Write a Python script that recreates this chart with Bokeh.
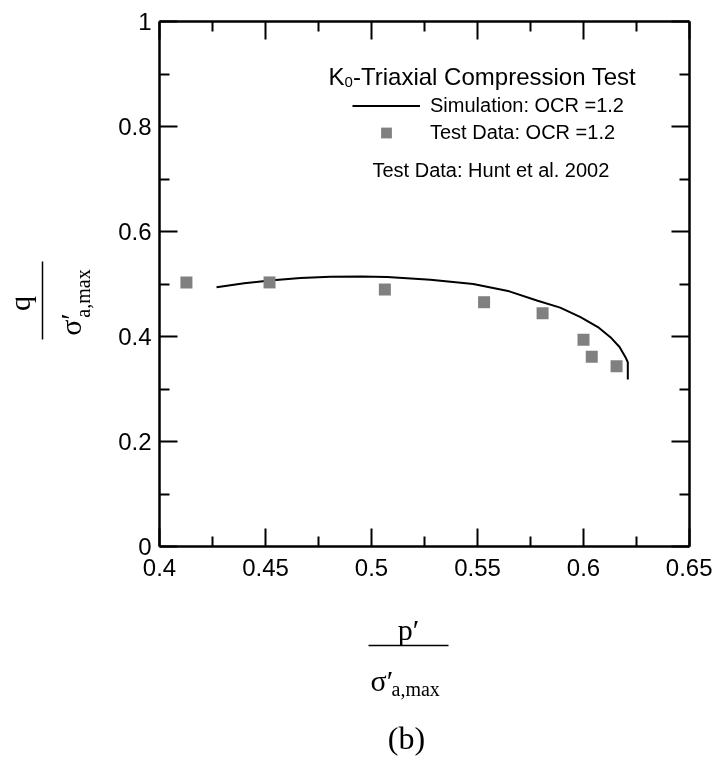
import math
from bokeh.plotting import figure
from bokeh.layouts import row, column
from bokeh.models import (Range1d, LinearAxis, FixedTicker, NumeralTickFormatter,
                          CustomJSTickFormatter, Label, Arrow, Legend, LegendItem)
from bokeh.embed import file_html
from bokeh.resources import INLINE

# ---------------- data ----------------
sim_p = [0.4269, 0.4400, 0.4520, 0.4665, 0.4807, 0.4950, 0.5074, 0.5278, 0.5480,
         0.5650, 0.5780, 0.5890, 0.5986, 0.6068, 0.6127, 0.6170, 0.6198, 0.6209, 0.6209]
sim_q = [0.494, 0.5015, 0.5067, 0.5115, 0.5140, 0.5145, 0.5135, 0.508, 0.500,
         0.486, 0.4686, 0.455, 0.4368, 0.418, 0.3987, 0.380, 0.3606, 0.351, 0.318]

test_p = [0.4127, 0.4519, 0.5063, 0.5531, 0.5807, 0.6000, 0.6039, 0.6156]
test_q = [0.503, 0.503, 0.4895, 0.4653, 0.4444, 0.3937, 0.3613, 0.3434]

x_ticks = [0.4, 0.45, 0.5, 0.55, 0.6, 0.65]
x_minor = [0.425, 0.475, 0.525, 0.575, 0.625]
y_ticks = [0.0, 0.2, 0.4, 0.6, 0.8, 1.0]
y_minor = [0.1, 0.3, 0.5, 0.7, 0.9]

sim_label = "Simulation: OCR =1.2"
test_label = "Test Data: OCR =1.2"
source_label = "Test Data: Hunt et al. 2002"

# ---------------- layout (page pixels) ----------------
W, H = 712, 757
LEFT_W = 100            # left strip holding the rotated y label
MAIN_H = 596            # height of main plot (frame + axes)
FL, FT, FW, FH = 159, 21, 530, 525   # frame position on page

SANS = "Liberation Sans"
SERIF = "Liberation Serif"

# ---------------- main plot ----------------
p = figure(frame_width=FW, frame_height=FH,
           x_range=Range1d(0.4, 0.65), y_range=Range1d(0.0, 1.0),
           output_backend="svg", toolbar_location=None,
           x_axis_location=None, y_axis_location=None,
           min_border_left=FL - LEFT_W, min_border_top=FT,
           min_border_right=W - FL - FW, min_border_bottom=MAIN_H - FT - FH)
p.background_fill_color = "white"
p.border_fill_color = "white"
p.outline_line_color = None
p.xgrid.visible = False
p.ygrid.visible = False


def make_axis(ticks, minor, show_labels, standoff):
    if show_labels:
        fmt = NumeralTickFormatter(format="0.[00]")
    else:
        fmt = CustomJSTickFormatter(code="return ''")
    ax = LinearAxis(ticker=FixedTicker(ticks=ticks, minor_ticks=minor), formatter=fmt)
    ax.axis_line_width = 2.5
    ax.axis_line_color = "black"
    ax.major_tick_in = 18
    ax.major_tick_out = 0
    ax.minor_tick_in = 10
    ax.minor_tick_out = 0
    ax.major_tick_line_width = 2
    ax.minor_tick_line_width = 2
    ax.major_tick_line_color = "black"
    ax.minor_tick_line_color = "black"
    ax.major_label_text_font = SANS
    ax.major_label_text_color = "black"
    ax.major_label_text_font_size = "24px"
    ax.major_label_standoff = standoff
    return ax


p.add_layout(make_axis(x_ticks, x_minor, True, 12), "below")
p.add_layout(make_axis(y_ticks, y_minor, True, 8), "left")
p.add_layout(make_axis(x_ticks, x_minor, False, 0), "above")
p.add_layout(make_axis(y_ticks, y_minor, False, 0), "right")

line_r = p.line(sim_p, sim_q, line_color="black", line_width=2)
pts_r = p.scatter(test_p, test_q, marker="square", size=12,
                  fill_color="#808080", line_color=None)

legend = Legend(items=[LegendItem(label=sim_label, renderers=[line_r]),
                       LegendItem(label=test_label, renderers=[pts_r])],
                location=(193, 400), orientation="vertical",
                glyph_width=68, glyph_height=27, label_height=27,
                label_standoff=10, spacing=0, padding=0, margin=0,
                border_line_color=None, background_fill_alpha=0,
                label_text_font=SANS, label_text_font_size="20px",
                label_text_color="black")
p.add_layout(legend)


# helpers converting page pixels to main-plot data coordinates (inside frame only)
def dx(px):
    return 0.4 + (px - FL) * 0.25 / FW


def dy(py):
    return 1.0 - (py - FT) * 1.0 / FH


def add_text(fig, text, x, y, size, font=SANS, align="left", baseline="alphabetic", angle=0.0):
    fig.add_layout(Label(x=x, y=y, text=text, text_font=font,
                         text_font_size=size, text_align=align,
                         text_baseline=baseline, angle=angle,
                         text_color="black"))


add_text(p, "K", dx(328), dy(76), "24px")
add_text(p, "0", dx(344), dy(81), "15px")
add_text(p, "-Triaxial Compression Test", dx(352.5), dy(76), "24px")
add_text(p, source_label, dx(372), dy(169), "20px")


# ---------------- helper strips (x data == page x, y data == distance from strip bottom) ----------------
def strip(w, h, backend="svg"):
    f = figure(width=w, height=h, frame_width=w, frame_height=h,
               x_range=Range1d(0, w), y_range=Range1d(0, h),
               output_backend=backend, toolbar_location=None,
               x_axis_location=None, y_axis_location=None, min_border=0)
    f.outline_line_color = None
    f.background_fill_color = "white"
    f.border_fill_color = "white"
    f.xgrid.visible = False
    f.ygrid.visible = False
    return f


# left strip occupies page y 0..MAIN_H (canvas backend so the vertical text is rotated)
left = strip(LEFT_W, MAIN_H, backend="canvas")


def ly(py):
    return MAIN_H - py


rot = math.pi / 2
add_text(left, "q", 19, ly(282), "30px", font=SERIF, align="center", baseline="middle", angle=rot)
left.add_layout(Arrow(x_start=42, y_start=ly(240), x_end=42, y_end=ly(318),
                      start=None, end=None, line_width=1.5, line_color="black"))
add_text(left, "σ′", 70, ly(303), "30px", font=SERIF, align="center", baseline="middle", angle=rot)
add_text(left, "a,max", 82, ly(272), "20px", font=SERIF, align="center", baseline="middle", angle=rot)

# bottom strip occupies page y MAIN_H..H
bottom = strip(W, H - MAIN_H)


def by(py):
    return H - py


add_text(bottom, "p′", 408, by(629), "30px", font=SERIF, align="center")
bottom.add_layout(Arrow(x_start=368, y_start=by(645), x_end=448, y_end=by(645),
                        start=None, end=None, line_width=1.5, line_color="black"))
add_text(bottom, "σ′", 370, by(680), "30px", font=SERIF)
add_text(bottom, "a,max", 391, by(688), "20px", font=SERIF)
add_text(bottom, "(b)", 406, by(737), "32px", font=SERIF, align="center")

layout = column(row(left, p, spacing=0), bottom, spacing=0)

open("out.html", "w").write(file_html(layout, INLINE))
